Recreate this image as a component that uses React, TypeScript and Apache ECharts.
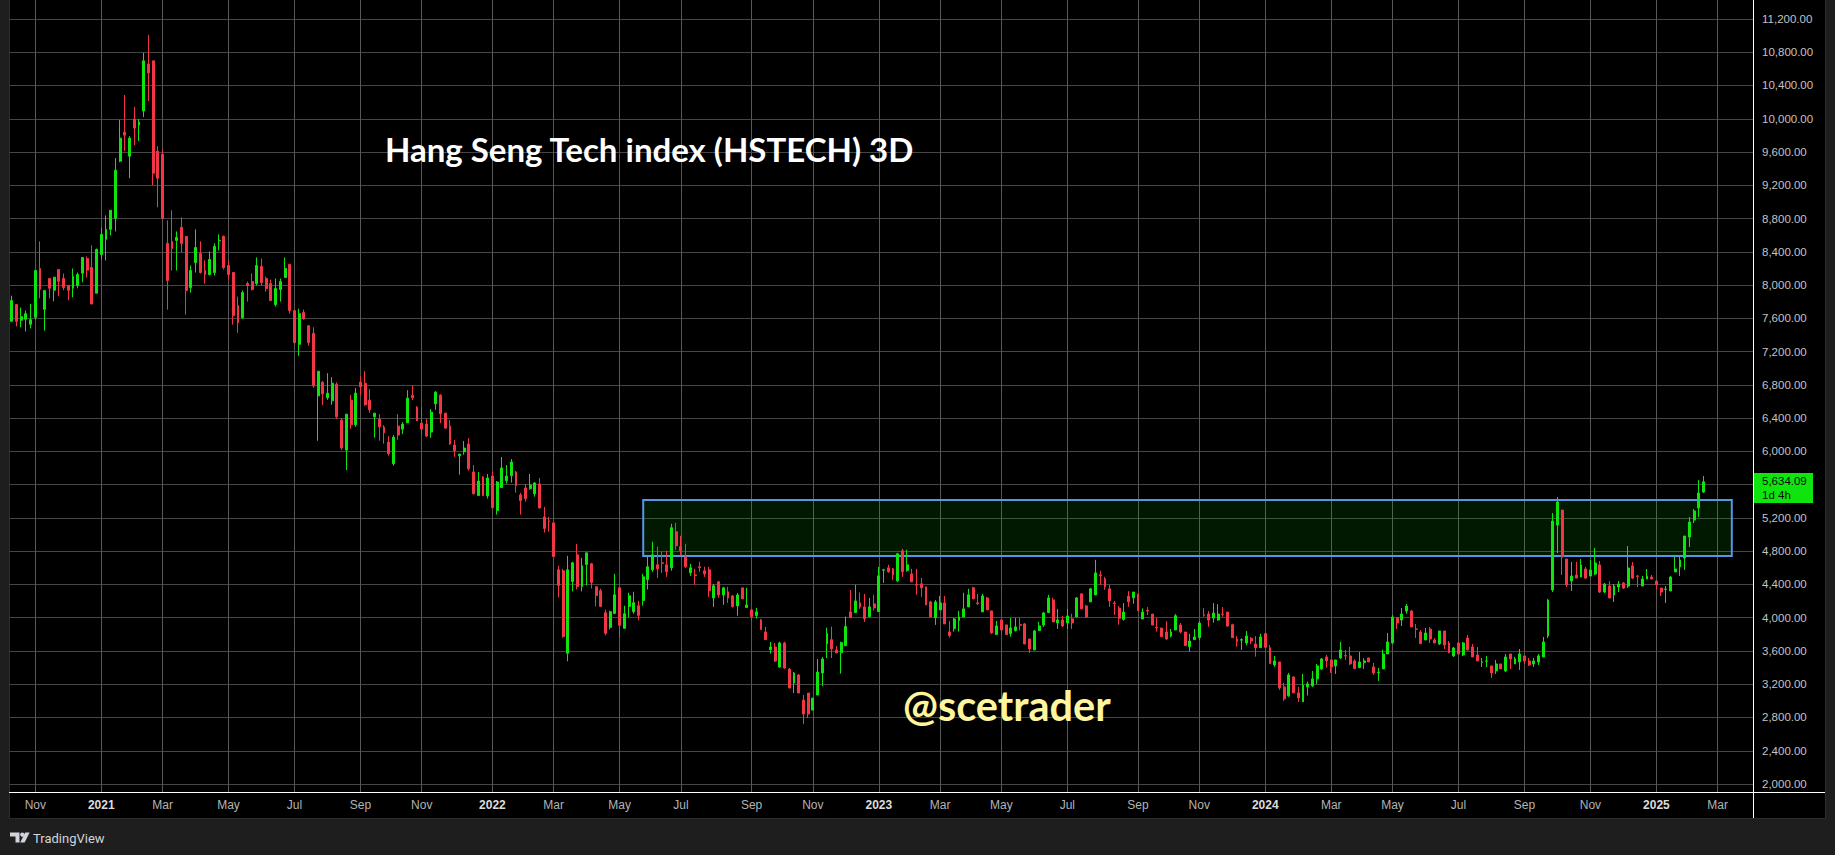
import React, { useEffect, useRef } from 'react';
import * as echarts from 'echarts';

// Candles are [open, close, low, high], one per 3-day bar.
const ohlc2020 = [
  [7564, 7813, 7564, 7873], [7765, 7564, 7504, 7765], [7576, 7620, 7492, 7729], [7588, 7656, 7443, 7693],
  [7528, 7584, 7479, 7773], [7612, 8175, 7584, 8175], [8199, 7950, 7841, 8525], [7709, 7934, 7451, 7934],
  [8079, 7962, 7841, 8079], [7938, 8095, 7805, 8095], [8187, 8046, 7866, 8187], [8079, 7970, 7938, 8139],
  [7994, 7938, 7817, 8002], [7962, 8103, 7853, 8199], [7994, 8127, 7962, 8151], [8143, 8332, 8034, 8332],
  [8320, 8179, 8091, 8344], [8211, 7773, 7769, 8477], [7902, 8428, 7902, 8440],
];

const ohlc2021 = [
  [8368, 8609, 8308, 8694], [8549, 8670, 8296, 8838], [8670, 8899, 8597, 8899], [8802, 9381, 8645, 9526],
  [9490, 9767, 9477, 9984], [9839, 9803, 9610, 10286], [9550, 9767, 9285, 9791], [9996, 9888, 9683, 10141],
  [9924, 9960, 9731, 9996], [10093, 10696, 10020, 10792], [10659, 10551, 10213, 11009], [10696, 9345, 9200, 10696],
  [9610, 9285, 8935, 9670], [9574, 8802, 8802, 9634], [8501, 8054, 7705, 8778], [8525, 8440, 8175, 8899],
  [8537, 8573, 8175, 8645], [8694, 8501, 8392, 8814], [8585, 7934, 7644, 8585], [7970, 8175, 7910, 8235],
  [8271, 8452, 8151, 8670], [8380, 8151, 8139, 8525], [8175, 8127, 8018, 8296], [8127, 8308, 8115, 8404],
  [8151, 8465, 8115, 8501], [8533, 8537, 8416, 8609], [8585, 8211, 8187, 8597], [8235, 8127, 8066, 8296],
  [8151, 7632, 7524, 8151], [7753, 7548, 7427, 7861], [7608, 7910, 7596, 7934], [8018, 7994, 7801, 8042],
  [8042, 7946, 7934, 8139], [8018, 8235, 7994, 8332], [8223, 8030, 7994, 8320], [8079, 7958, 7922, 8103],
  [8018, 7813, 7813, 8066], [7765, 7958, 7741, 8079], [7946, 8042, 7801, 8079], [8091, 8199, 8091, 8332],
  [8247, 7693, 7656, 8259], [7693, 7307, 7307, 7693], [7287, 7656, 7150, 7717], [7669, 7596, 7584, 7705],
  [7512, 7307, 7271, 7512], [7420, 6788, 6764, 7492], [6668, 6964, 6128, 6964], [6832, 6692, 6560, 6844],
  [6644, 6700, 6620, 6940], [6608, 6820, 6560, 6892], [6808, 6416, 6392, 6832], [6376, 6040, 6016, 6400],
  [6016, 6448, 5776, 6448], [6616, 6320, 6272, 6676], [6320, 6700, 6296, 6760], [6832, 6776, 6676, 6904],
  [6820, 6560, 6548, 6964], [6616, 6500, 6464, 6748], [6416, 6460, 6164, 6460], [6388, 6296, 6128, 6448],
  [6292, 6224, 6092, 6316], [6112, 5972, 5948, 6184], [5852, 6172, 5828, 6196], [6304, 6196, 6140, 6448],
  [6268, 6328, 6208, 6352], [6344, 6640, 6344, 6736], [6676, 6644, 6616, 6796], [6532, 6368, 6368, 6544],
  [6340, 6268, 6196, 6532], [6328, 6184, 6172, 6388], [6232, 6472, 6164, 6508], [6572, 6712, 6500, 6724],
  [6676, 6452, 6340, 6688], [6460, 6280, 6272, 6460], [6304, 6088, 6080, 6376], [6076, 6008, 5936, 6136],
  [5948, 5968, 5720, 5968], [5996, 6040, 5960, 6124], [6088, 5792, 5768, 6160], [5752, 5492, 5480, 5836],
  [5468, 5644, 5468, 5752], [5692, 5468, 5468, 5704], [5464, 5680, 5432, 5728],
];

const ohlc2022 = [
  [5704, 5324, 5312, 5752], [5288, 5632, 5240, 5644], [5564, 5800, 5564, 5932], [5648, 5704, 5612, 5836],
  [5708, 5872, 5624, 5908], [5752, 5588, 5504, 5764], [5476, 5408, 5240, 5500], [5560, 5432, 5396, 5608],
  [5552, 5596, 5540, 5728], [5492, 5620, 5456, 5632], [5608, 5320, 5312, 5680], [5212, 5072, 5024, 5332],
  [5164, 5156, 5036, 5212], [5140, 4736, 4736, 5140], [4576, 4388, 4244, 4624], [4564, 3772, 3760, 4588],
  [3572, 4576, 3476, 4744], [4436, 4660, 4316, 4672], [4756, 4376, 4340, 4888], [4376, 4624, 4316, 4720],
  [4640, 4780, 4388, 4780], [4648, 4424, 4352, 4660], [4372, 4268, 4136, 4372], [4324, 4136, 4136, 4348],
  [4060, 3812, 3788, 4096], [3884, 4072, 3860, 4084], [4052, 4276, 4044, 4528], [4360, 3908, 3764, 4360],
  [3872, 4048, 3872, 4144], [4136, 4264, 4004, 4300], [4072, 4180, 4048, 4312], [4144, 4028, 3968, 4204],
  [4206, 4491, 4146, 4527], [4459, 4612, 4339, 4744], [4576, 4756, 4552, 4913], [4636, 4588, 4479, 4853],
  [4660, 4652, 4540, 4793], [4636, 4552, 4491, 4805], [4600, 5082, 4564, 5130], [5033, 4865, 4817, 5142],
  [4853, 4805, 4756, 4985], [4732, 4612, 4600, 4889], [4540, 4600, 4503, 4648], [4515, 4507, 4395, 4588],
  [4612, 4600, 4552, 4672], [4564, 4527, 4491, 4612], [4576, 4323, 4251, 4612], [4238, 4383, 4130, 4407],
  [4431, 4274, 4238, 4443], [4274, 4359, 4154, 4371], [4311, 4238, 4178, 4371], [4262, 4134, 4122, 4274],
  [4142, 4274, 4025, 4299], [4359, 4226, 4226, 4359], [4122, 4154, 4122, 4359], [4094, 4013, 3965, 4106],
  [4025, 4070, 3989, 4118], [3973, 3857, 3857, 3985], [3829, 3736, 3736, 3889], [3616, 3648, 3568, 3708],
  [3648, 3479, 3467, 3696], [3407, 3696, 3399, 3712], [3696, 3395, 3387, 3712], [3383, 3154, 3154, 3395],
  [3214, 3335, 3094, 3347], [3311, 3094, 3094, 3323], [3009, 2841, 2720, 3070], [3094, 2841, 2793, 3094],
  [2889, 3033, 2889, 3033], [3070, 3347, 3070, 3503], [3335, 3503, 3178, 3527], [3688, 3809, 3515, 3881],
  [3736, 3624, 3515, 3893], [3612, 3576, 3576, 3660], [3580, 3700, 3327, 3712], [3664, 3893, 3664, 4013],
  [4070, 4001, 4001, 4335], [4062, 4202, 4062, 4395], [4178, 4130, 4106, 4303], [4130, 3989, 3949, 4287],
  [4013, 4130, 4001, 4238], [4166, 4118, 4086, 4274],
];

const ohlc2023 = [
  [4074, 4503, 4074, 4612], [4572, 4576, 4419, 4588], [4600, 4552, 4540, 4636], [4588, 4515, 4455, 4600],
  [4443, 4768, 4431, 4780], [4805, 4552, 4491, 4829], [4568, 4636, 4552, 4817], [4527, 4431, 4431, 4588],
  [4399, 4391, 4275, 4588], [4407, 4359, 4250, 4479], [4371, 4154, 4154, 4371], [4190, 4009, 4009, 4202],
  [4001, 4190, 3913, 4214], [4094, 4178, 4094, 4262], [4178, 3925, 3925, 4262], [3829, 3785, 3760, 3961],
  [3869, 3985, 3833, 4001], [3965, 4009, 3833, 4082], [4009, 4106, 4009, 4299], [4130, 4275, 4130, 4347],
  [4359, 4226, 4226, 4371], [4178, 4170, 4154, 4287], [4070, 4262, 4070, 4287], [4238, 4094, 4094, 4250],
  [4082, 3817, 3805, 4082], [3797, 3901, 3797, 3961], [3973, 3853, 3797, 3973], [3913, 3797, 3797, 3913],
  [3809, 3877, 3772, 3997], [3845, 3889, 3833, 3997], [3917, 3909, 3845, 3997], [3925, 3684, 3684, 3937],
  [3744, 3624, 3576, 3744], [3612, 3841, 3612, 3853], [3845, 3901, 3845, 3949], [3913, 4058, 3889, 4070],
  [4062, 4238, 4062, 4275], [4214, 3949, 3949, 4238], [3937, 3973, 3865, 4106], [3973, 3901, 3889, 4021],
  [3937, 4021, 3865, 4106], [3985, 3937, 3865, 4046], [4009, 4238, 4009, 4250], [4287, 4106, 4106, 4287],
  [4142, 4009, 3997, 4154], [4190, 4347, 4190, 4359], [4274, 4539, 4274, 4696], [4515, 4503, 4395, 4564],
  [4467, 4371, 4335, 4491], [4347, 4202, 4130, 4395], [4178, 4170, 4033, 4202], [4116, 3992, 3916, 4140],
  [3980, 4068, 3964, 4176], [4260, 4192, 4132, 4320], [4240, 4308, 4168, 4308], [4284, 4084, 4084, 4284],
  [3984, 4068, 3984, 4112], [4088, 4080, 4032, 4128], [4044, 3912, 3912, 4044], [3884, 3876, 3832, 3996],
  [3876, 3772, 3772, 3876], [3828, 3744, 3732, 3960], [3780, 3828, 3764, 3864], [3852, 4024, 3852, 4044],
  [3912, 3828, 3812, 3936], [3828, 3664, 3664, 3828], [3652, 3720, 3592, 3804], [3736, 3768, 3736, 3864],
  [3760, 3936, 3732, 3960], [4036, 4028, 4012, 4116], [4044, 3972, 3892, 4080], [3996, 4056, 3940, 4176],
  [3972, 4044, 3964, 4164], [4044, 4040, 4012, 4128], [4068, 3900, 3892, 4068], [3916, 3760, 3760, 3928],
  [3744, 3712, 3652, 3780], [3730, 3736, 3612, 3752], [3696, 3780, 3668, 3840], [3752, 3720, 3684, 3768],
  [3684, 3640, 3532, 3780], [3640, 3768, 3640, 3808],
];

const ohlc2024 = [
  [3808, 3644, 3644, 3808], [3640, 3448, 3448, 3672], [3432, 3480, 3408, 3540], [3468, 3156, 3132, 3468],
  [3168, 3024, 3000, 3216], [3060, 3312, 3048, 3336], [3288, 3096, 3096, 3288], [3096, 3036, 2988, 3168],
  [2988, 3192, 2988, 3324], [3168, 3204, 3064, 3232], [3180, 3264, 3168, 3360], [3264, 3420, 3204, 3444],
  [3384, 3504, 3372, 3516], [3528, 3480, 3400, 3552], [3492, 3408, 3336, 3492], [3420, 3492, 3324, 3492],
  [3516, 3612, 3504, 3708], [3544, 3540, 3492, 3612], [3540, 3444, 3432, 3648], [3480, 3388, 3384, 3500],
  [3400, 3468, 3392, 3588], [3460, 3480, 3384, 3512], [3516, 3468, 3468, 3516], [3408, 3336, 3312, 3456],
  [3338, 3344, 3240, 3396], [3384, 3564, 3384, 3616], [3564, 3708, 3564, 3816], [3696, 4008, 3684, 4032],
  [4000, 3936, 3864, 4000], [3972, 4044, 3900, 4116], [4080, 4140, 4048, 4164], [4080, 3888, 3888, 4092],
  [3864, 3860, 3756, 3924], [3828, 3688, 3688, 3852], [3732, 3816, 3732, 3876], [3864, 3744, 3696, 3888],
  [3732, 3696, 3696, 3756], [3684, 3840, 3672, 3840], [3840, 3672, 3624, 3840], [3696, 3576, 3576, 3720],
  [3540, 3636, 3528, 3648], [3696, 3564, 3564, 3708], [3552, 3696, 3540, 3708], [3756, 3612, 3612, 3792],
  [3648, 3528, 3528, 3684], [3552, 3480, 3480, 3648], [3464, 3468, 3408, 3516], [3476, 3480, 3408, 3540],
  [3420, 3336, 3276, 3420], [3360, 3444, 3324, 3492], [3444, 3384, 3384, 3444], [3360, 3528, 3348, 3564],
  [3564, 3504, 3384, 3564], [3444, 3504, 3444, 3528], [3468, 3564, 3372, 3624], [3540, 3480, 3444, 3540],
  [3480, 3432, 3420, 3516], [3444, 3480, 3408, 3516], [3468, 3540, 3432, 3564], [3528, 3708, 3528, 3768],
  [3780, 4212, 3756, 4224], [4333, 5162, 4309, 5258], [5114, 5391, 4778, 5451], [5295, 4730, 4513, 5295],
  [4706, 4393, 4369, 4706], [4441, 4501, 4321, 4670], [4513, 4477, 4477, 4670], [4489, 4634, 4489, 4706],
  [4586, 4477, 4465, 4610], [4501, 4574, 4501, 4694], [4526, 4658, 4513, 4838], [4634, 4309, 4297, 4682],
  [4309, 4405, 4297, 4417], [4381, 4237, 4237, 4441], [4273, 4381, 4189, 4405], [4369, 4405, 4309, 4441],
  [4417, 4357, 4345, 4429], [4381, 4598, 4357, 4862], [4622, 4477, 4465, 4670], [4501, 4497, 4369, 4513],
  [4381, 4465, 4381, 4501], [4465, 4501, 4465, 4586], [4489, 4465, 4465, 4513],
];

const ohlc2025 = [
  [4441, 4393, 4345, 4441], [4357, 4309, 4261, 4357], [4341, 4345, 4177, 4381], [4321, 4489, 4321, 4501],
  [4550, 4586, 4550, 4730], [4610, 4694, 4501, 4730], [4718, 4982, 4574, 4982], [4970, 5150, 4850, 5210],
  [5174, 5283, 5138, 5307], [5319, 5499, 5210, 5655], [5511, 5634.09, 5499, 5703],
];

// Month / year labels on the time axis, and the bar each one sits on.
const tickBars = [5, 19, 32, 46, 60, 74, 87, 102, 115, 129, 142, 157, 170, 184, 197, 210, 224, 239, 252, 266, 280, 293, 307, 321, 335, 349, 362];
const tickLabels = ['Nov', '2021', 'Mar', 'May', 'Jul', 'Sep', 'Nov', '2022', 'Mar', 'May', 'Jul', 'Sep', 'Nov', '2023', 'Mar', 'May', 'Jul', 'Sep', 'Nov', '2024', 'Mar', 'May', 'Jul', 'Sep', 'Nov', '2025', 'Mar'];

// Resistance zone (price range and bar range).
const zoneTop = 5415;
const zoneBottom = 4742;
const zoneFromBar = 134;
const zoneToBar = 365;

const lastPrice = 5634.09;
const countdown = '1d 4h';
const titleText = 'Hang Seng Tech index (HSTECH) 3D';
const watermark = '@scetrader';

const SLOT_COUNT = 370; // bars plus empty space to the right
const GREEN = '#0fe40f';
const RED = '#f23645';

const fmtPrice = (v: number) =>
  v.toLocaleString('en-US', { minimumFractionDigits: 2, maximumFractionDigits: 2 });

export default function App() {
  const ref = useRef<HTMLDivElement>(null);

  useEffect(() => {
    if (!ref.current) return;
    const chart = echarts.init(ref.current, null, { renderer: 'svg' });
    const ohlc = [...ohlc2020, ...ohlc2021, ...ohlc2022, ...ohlc2023, ...ohlc2024, ...ohlc2025];
    const slots = Array.from({ length: SLOT_COUNT }, (_, i) => String(i));
    const tickMap = new Map<number, string>();
    tickBars.forEach((b, k) => tickMap.set(b, tickLabels[k]));

    const plotLeft = 9.4;
    const plotRight = 1753;
    const plotBottom = 792;

    chart.setOption({
      animation: false,
      backgroundColor: 'transparent',
      grid: {
        left: plotLeft,
        top: 0,
        width: plotRight - plotLeft,
        height: plotBottom,
        containLabel: false,
        outerBoundsMode: 'none',
      },
      xAxis: {
        type: 'category',
        data: slots,
        boundaryGap: true,
        axisLine: { show: true, lineStyle: { color: '#ffffff', width: 1 } },
        axisTick: { show: false },
        axisLabel: {
          interval: (idx: number) => tickMap.has(idx),
          formatter: (_v: string, idx: number) => {
            const t = tickMap.get(idx) || '';
            return /^\d{4}$/.test(t) ? `{y|${t}}` : t;
          },
          color: '#b3b3b3',
          fontSize: 12,
          fontFamily: "'Liberation Sans', Arial, sans-serif",
          margin: 7,
          rich: {
            y: { color: '#dcdcdc', fontWeight: 'bold', fontSize: 12, fontFamily: "'Liberation Sans', Arial, sans-serif" },
          },
        },
        splitLine: {
          show: true,
          interval: (idx: number) => tickMap.has(idx),
          alignWithLabel: true,
          lineStyle: { color: '#575757', width: 1 },
        },
      },
      yAxis: {
        type: 'value',
        position: 'right',
        min: 1904,
        max: 11428,
        minInterval: 400,
        maxInterval: 400,
        axisLine: { show: true, lineStyle: { color: '#ffffff', width: 1 } },
        axisTick: { show: false },
        axisLabel: {
          margin: 9,
          color: '#c3c3c3',
          fontSize: 11.5,
          fontFamily: "'Liberation Sans', Arial, sans-serif",
          showMinLabel: false,
          showMaxLabel: false,
          formatter: (v: number) => (Math.abs(v % 400) < 0.001 ? fmtPrice(v) : ''),
        },
        splitLine: {
          show: true,
          showMinLine: false,
          showMaxLine: false,
          lineStyle: { color: '#464646', width: 1 },
        },
      },
      series: [
        {
          type: 'line',
          data: [],
          z: 1,
          silent: true,
          markArea: {
            silent: true,
            itemStyle: {
              color: 'rgba(10, 170, 10, 0.15)',
              borderColor: '#5596e6',
              borderWidth: 2,
            },
            data: [[{ xAxis: zoneFromBar, yAxis: zoneTop }, { xAxis: zoneToBar, yAxis: zoneBottom }]],
          },
        },
        {
          type: 'candlestick',
          z: 3,
          data: ohlc,
          barWidth: 2.4,
          itemStyle: {
            color: GREEN,
            color0: RED,
            borderColor: GREEN,
            borderColor0: RED,
            borderWidth: 1,
          },
        },
      ],
      graphic: [
        {
          type: 'text',
          x: 385,
          y: 149,
          z: 10,
          style: {
            text: titleText,
            fill: '#ffffff',
            font: "bold 33px Lato, 'Open Sans', sans-serif",
            align: 'left',
            verticalAlign: 'middle',
            textAlign: 'left',
            textVerticalAlign: 'middle',
          },
        },
        {
          type: 'text',
          x: 903,
          y: 705,
          z: 10,
          style: {
            text: watermark,
            fill: '#fff59d',
            font: "bold 41.5px Lato, 'Open Sans', sans-serif",
            align: 'left',
            verticalAlign: 'middle',
            textAlign: 'left',
            textVerticalAlign: 'middle',
          },
        },
        // extend axis lines into the price-scale and time-scale strips
        { type: 'line', z: 10, shape: { x1: plotRight, y1: plotBottom + 0.5, x2: 1825, y2: plotBottom + 0.5 }, style: { stroke: '#ffffff', lineWidth: 1 } },
        { type: 'line', z: 10, shape: { x1: plotRight + 0.5, y1: plotBottom, x2: plotRight + 0.5, y2: 818 }, style: { stroke: '#ffffff', lineWidth: 1 } },
        // last price tag
        { type: 'rect', z: 10, shape: { x: 1754, y: 473, width: 59, height: 30 }, style: { fill: GREEN } },
        {
          type: 'text', z: 11, x: 1762, y: 481,
          style: { text: fmtPrice(lastPrice), fill: '#0a0a0a', font: "11.5px 'Liberation Sans', Arial, sans-serif", verticalAlign: 'middle', textVerticalAlign: 'middle' },
        },
        {
          type: 'text', z: 11, x: 1762, y: 495,
          style: { text: countdown, fill: '#0a0a0a', font: "11.5px 'Liberation Sans', Arial, sans-serif", verticalAlign: 'middle', textVerticalAlign: 'middle' },
        },
        // TradingView logo
        { type: 'polygon', z: 10, shape: { points: [[10, 832.5], [19.5, 832.5], [19.5, 842.5], [15.5, 842.5], [15.5, 836.5], [10, 836.5]] }, style: { fill: '#d1d4dc' } },
        { type: 'circle', z: 10, shape: { cx: 22.3, cy: 834.6, r: 2.1 }, style: { fill: '#d1d4dc' } },
        { type: 'polygon', z: 10, shape: { points: [[25.2, 832.5], [29.6, 832.5], [24.6, 842.5], [20.2, 842.5]] }, style: { fill: '#d1d4dc' } },
        {
          type: 'text', z: 10, x: 33, y: 838,
          style: { text: 'TradingView', fill: '#d1d4dc', font: "13px Roboto, 'Noto Sans', sans-serif", verticalAlign: 'middle', textVerticalAlign: 'middle' },
        },
      ],
    });

    return () => chart.dispose();
  }, []);

  return (
    <div style={{ position: 'fixed', left: 0, top: 0, width: 1835, height: 855, background: '#1e1e1e', overflow: 'hidden' }}>
      <div
        style={{
          position: 'absolute',
          left: 10,
          top: 0,
          width: 1815,
          height: 818,
          background: '#000000',
          boxShadow: '0 0 0 1px #2c2c2c',
        }}
      />
      <div ref={ref} style={{ position: 'absolute', left: 0, top: 0, width: 1835, height: 855 }} />
    </div>
  );
}
